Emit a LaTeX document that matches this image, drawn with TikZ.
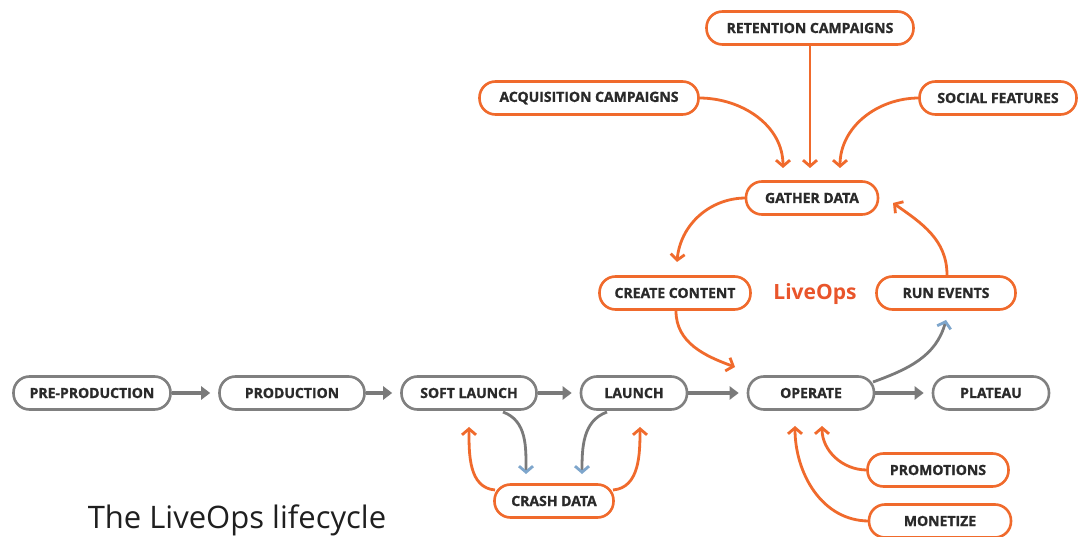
\documentclass[tikz,border=0pt]{standalone}
\usepackage{fontspec}
\setmainfont{Open Sans}
\newfontfamily\pillfont{Open Sans}[BoldFeatures={FakeBold=1.2}]
\usetikzlibrary{arrows.meta}

\definecolor{ops}{HTML}{F06A2C}
\definecolor{opstext}{HTML}{E9552B}
\definecolor{stage}{HTML}{808080}
\definecolor{flow}{HTML}{7A7A7A}
\definecolor{tipblue}{HTML}{7EA6CC}
\definecolor{label}{HTML}{2A2A2A}

\tikzset{
  pill/.style={draw, line width=2.6pt, rounded corners=16pt, minimum height=33pt,
    inner sep=0pt, text=label, font=\pillfont\bfseries\fontsize{14}{15}\selectfont},
  stagebox/.style={pill, draw=stage},
  opsbox/.style={pill, draw=ops},
  mainflow/.style={line width=4.5pt, draw=flow, shorten >=8pt,
    -{Triangle[length=9pt,width=13pt]}},
  opslink/.style={line width=2.8pt, draw=ops,
    -{Straight Barb[length=6pt,width=14pt]}},
  greylink/.style={line width=2.8pt, draw=flow,
    -{Straight Barb[length=6pt,width=14pt,color=tipblue]}},
}

\begin{document}
\begin{tikzpicture}[x=1pt,y=1pt]
\useasboundingbox[fill=white] (0,0) rectangle (1088,-537);

% lifecycle stages
\node[stagebox, minimum width=157pt] (pre)    at (92,-393)  {PRE-PRODUCTION};
\node[stagebox, minimum width=145pt] (prod)   at (292,-393) {PRODUCTION};
\node[stagebox, minimum width=135pt] (soft)   at (469,-393) {SOFT LAUNCH};
\node[stagebox, minimum width=106pt] (launch) at (634,-393) {LAUNCH};
\node[stagebox, minimum width=126pt] (operate) at (811,-393) {OPERATE};
\node[stagebox, minimum width=116pt] (plateau) at (991,-393) {PLATEAU};

% live operations loop
\node[opsbox, minimum width=151pt] (create) at (675,-293) {CREATE CONTENT};
\node[opsbox, minimum width=139pt] (run)    at (946,-293) {RUN EVENTS};
\node[opsbox, minimum width=132pt] (gather) at (812,-198) {GATHER DATA};
\node[font=\bfseries\fontsize{21}{24}\selectfont, text=opstext] (liveops) at (815,-294) {LiveOps};

% data sources
\node[opsbox, minimum width=219pt] (acq)    at (589,-98)  {ACQUISITION CAMPAIGNS};
\node[opsbox, minimum width=207pt] (ret)    at (810,-28)  {RETENTION CAMPAIGNS};
\node[opsbox, minimum width=157pt] (social) at (998,-98)  {SOCIAL FEATURES};
\node[opsbox, minimum width=119pt] (crash)  at (554,-501) {CRASH DATA};
\node[opsbox, minimum width=141pt] (promo)  at (938,-470) {PROMOTIONS};
\node[opsbox, minimum width=142pt] (monet)  at (940,-521) {MONETIZE};

\node[anchor=base, font=\fontsize{31}{34}\selectfont, text=black!88] (title) at (237,-528) {The LiveOps lifecycle};

% main progression
\draw[mainflow] (pre) -- (prod);
\draw[mainflow] (prod) -- (soft);
\draw[mainflow] (soft) -- (launch);
\draw[mainflow] (launch) -- (operate);
\draw[mainflow] (operate) -- (plateau);

% crash reporting loop
\draw[greylink] ([shift={(34,-19)}]soft.center) to[out=-20,in=90] ([shift={(-28,27)}]crash.center);
\draw[greylink] ([shift={(-27,-19)}]launch.center) to[out=200,in=90] ([shift={(28,27)}]crash.center);
\draw[opslink] ([shift={(-59,11)}]crash.center) to[out=175,in=-90] ([shift={(0,-34)}]soft.center);
\draw[opslink] ([shift={(59,11)}]crash.center) to[out=5,in=-90] ([shift={(6,-34)}]launch.center);

% live operations loop
\draw[opslink] ([shift={(1,-18)}]create.center) to[out=-90,in=160] ([shift={(-76,26)}]operate.center);
\draw[greylink] ([shift={(62,11)}]operate.center) to[out=20,in=-105] ([shift={(0,-27)}]run.center);
\draw[opslink] ([shift={(1,18)}]run.center) to[out=90,in=-35] ([shift={(81,-5)}]gather.center);
\draw[opslink] ([shift={(-66,0)}]gather.center) to[out=180,in=85] ([shift={(2,31)}]create.center);

% inputs to data gathering
\draw[opslink] ([shift={(110,0)}]acq.center) to[out=0,in=90] ([shift={(-29,30)}]gather.center);
\draw[opslink] (ret.south) -- ([shift={(-2,30)}]gather.center);
\draw[opslink] ([shift={(-79,0)}]social.center) to[out=180,in=90] ([shift={(28,30)}]gather.center);

% revenue inputs
\draw[opslink] ([shift={(-71,0)}]promo.center) to[out=180,in=-90] ([shift={(11,-33)}]operate.center);
\draw[opslink] ([shift={(-71,0)}]monet.center) to[out=180,in=-90] ([shift={(-16,-33)}]operate.center);
\end{tikzpicture}
\end{document}
